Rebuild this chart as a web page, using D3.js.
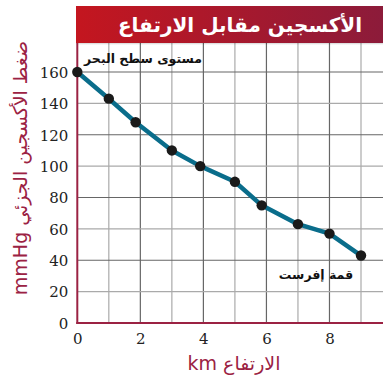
<!DOCTYPE html>
<html><head><meta charset="utf-8">
<script src="https://cdn.jsdelivr.net/npm/d3@7"></script>
<style>body{margin:0;background:#fff}svg{display:block}</style>
</head><body><div id="chart"></div>
<script>
const altitude = [0, 1, 1.85, 3, 3.9, 5, 5.85, 7, 8, 9];
const pressure = [160, 143, 128, 110, 100, 90, 75, 63, 57, 43];
const xTicks = [0, 2, 4, 6, 8];
const yTicks = [0, 20, 40, 60, 80, 100, 120, 140, 160];
const title = "الأكسجين مقابل الارتفاع";
const xTitle = "الارتفاع km";
const yTitle = "ضغط الأكسجين الجزئي mmHg";
const seaLabel = "مستوى سطح البحر";
const everestLabel = "قمة إفرست";

const W = 383, H = 380;
const svg = d3.select("#chart").append("svg").attr("width", W).attr("height", H);
const x = d3.scaleLinear().domain([0, 9]).range([77.3, 361]);
const y = d3.scaleLinear().domain([0, 160]).range([323, 72]);
const plotRight = W, plotTop = 43;
const crimson = "#9b2243";
const serif = "'DejaVu Serif', serif";

// grid
const vLines = d3.range(0, 10);
svg.append("g").selectAll("line").data(vLines.filter(d => d > 0)).join("line")
  .attr("x1", d => x(d)).attr("x2", d => x(d)).attr("y1", plotTop).attr("y2", y(0))
  .attr("stroke", d => d % 2 === 0 ? "#666" : "#aaa").attr("stroke-width", 1.2);
const hLines = d3.range(20, 200, 20);
svg.append("g").selectAll("line").data(hLines).join("line")
  .attr("x1", x(0)).attr("x2", plotRight).attr("y1", d => y(d)).attr("y2", d => y(d))
  .attr("stroke", d => d % 40 === 0 ? "#666" : "#aaa").attr("stroke-width", 1.2);

// header
const defs = svg.append("defs");
const g = defs.append("linearGradient").attr("id", "hdr");
g.append("stop").attr("offset", "0%").attr("stop-color", "#c4161f");
g.append("stop").attr("offset", "100%").attr("stop-color", "#8c1b3a");
const sh = defs.append("linearGradient").attr("id", "shd").attr("x1", 0).attr("x2", 0).attr("y1", 0).attr("y2", 1);
sh.append("stop").attr("offset", "0%").attr("stop-color", "#000").attr("stop-opacity", 0.25);
sh.append("stop").attr("offset", "100%").attr("stop-color", "#000").attr("stop-opacity", 0);
svg.append("rect").attr("x", 76).attr("y", 42).attr("width", W - 76).attr("height", 3).attr("fill", "url(#shd)");
svg.append("rect").attr("x", 76).attr("y", 6).attr("width", W - 76).attr("height", 37).attr("fill", "url(#hdr)");
svg.append("text").attr("x", 240).attr("y", 32).attr("text-anchor", "middle")
  .attr("direction", "rtl").style("font-family", "'DejaVu Sans'").attr("font-weight", "bold")
  .attr("font-size", 20).attr("fill", "#fff").text(title);

// axes lines
svg.append("line").attr("x1", x(0)).attr("x2", x(0)).attr("y1", plotTop).attr("y2", y(0) + 1)
  .attr("stroke", crimson).attr("stroke-width", 2);
svg.append("line").attr("x1", x(0) - 1).attr("x2", plotRight).attr("y1", y(0)).attr("y2", y(0))
  .attr("stroke", crimson).attr("stroke-width", 2);

// tick labels via axes
const yAxis = svg.append("g").attr("transform", `translate(${x(0) - 9},0)`)
  .call(d3.axisLeft(y).tickValues(yTicks).tickSize(0).tickPadding(0));
yAxis.attr("font-family", null).attr("font-size", null);
yAxis.select(".domain").remove();
yAxis.selectAll("text").style("font-family", serif).style("font-size", "15px").attr("fill", "#222").attr("dy", "0.35em");
const xAxis = svg.append("g").attr("transform", `translate(0,${y(0) + 10})`)
  .call(d3.axisBottom(x).tickValues(xTicks).tickSize(0).tickPadding(0));
xAxis.attr("font-family", null).attr("font-size", null);
xAxis.select(".domain").remove();
xAxis.selectAll("text").style("font-family", serif).style("font-size", "15px").attr("fill", "#222").attr("dy", "0.75em");

// line and points
const pts = altitude.map((a, i) => [a, pressure[i]]);
svg.append("path").datum(pts)
  .attr("d", d3.line().x(d => x(d[0])).y(d => y(d[1])))
  .attr("fill", "none").attr("stroke", "#0a6d8b").attr("stroke-width", 4.5).attr("stroke-linejoin", "round");
svg.append("g").selectAll("circle").data(pts).join("circle")
  .attr("cx", d => x(d[0])).attr("cy", d => y(d[1])).attr("r", 5.2).attr("fill", "#1a1a1a");

// annotations
svg.append("text").attr("x", 202).attr("y", 63).attr("text-anchor", "start").attr("direction", "rtl")
  .style("font-family", "'DejaVu Sans'").attr("font-weight", "bold").attr("font-size", 12.5).attr("fill", "#111").text(seaLabel);
svg.append("text").attr("x", 316).attr("y", 279).attr("text-anchor", "middle").attr("direction", "rtl")
  .style("font-family", "'DejaVu Sans'").attr("font-weight", "bold").attr("font-size", 12.5).attr("fill", "#111").text(everestLabel);

// axis titles
svg.append("text").attr("x", 234).attr("y", 370).attr("text-anchor", "middle").attr("direction", "rtl")
  .style("font-family", "'DejaVu Sans'").attr("font-size", 19).attr("fill", crimson).text(xTitle);
svg.append("text").attr("transform", "translate(27,168) rotate(-90)").attr("text-anchor", "middle").attr("direction", "rtl")
  .style("font-family", "'DejaVu Sans'").attr("font-size", 19).attr("fill", crimson).text(yTitle);
</script></body></html>
